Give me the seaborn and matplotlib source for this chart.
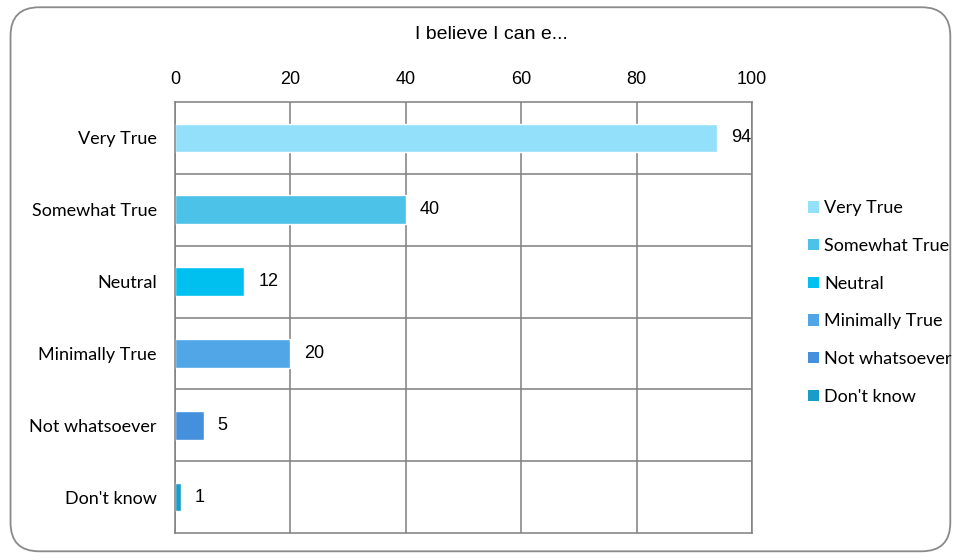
import matplotlib
matplotlib.use("Agg")
import matplotlib.pyplot as plt
import seaborn as sns
import pandas as pd
from matplotlib.patches import Patch, FancyBboxPatch

categories = ["Very True", "Somewhat True", "Neutral", "Minimally True", "Not whatsoever", "Don't know"]
values = [94, 40, 12, 20, 5, 1]
colors = ["#92E0FA", "#4CC2E8", "#00C0F0", "#50A6E6", "#4490DC", "#1A9CC8"]
title = "I believe I can e..."
xticks = [0, 20, 40, 60, 80, 100]

sns.set_style("white")
plt.rcParams["font.family"] = ["Liberation Sans", "DejaVu Sans"]
plt.rcParams["text.color"] = "black"

df = pd.DataFrame({"cat": categories, "val": values})

fig = plt.figure(figsize=(9.57, 5.58), dpi=100)
ax = fig.add_axes([0.1829, 0.0448, 0.6029, 0.7724])

sns.barplot(data=df, y="cat", x="val", hue="cat", palette=colors, order=categories,
            hue_order=categories, dodge=False, legend=False, width=0.4, ax=ax, saturation=1)

ax.set_xlim(0, 100)
ax.set_ylim(5.5, -0.5)
ax.xaxis.tick_top()
ax.set_xticks(xticks)
ax.tick_params(axis="x", length=0, labelsize=13, pad=10, colors="black")
ax.tick_params(axis="y", length=0, labelsize=13, pad=13, colors="black")
for lab in ax.get_yticklabels():
    lab.set_fontfamily(["Lato", "DejaVu Sans"])
ax.set_xlabel("")
ax.set_ylabel("")

for x in xticks:
    ax.axvline(x, color="#7f7f7f", lw=1.1, zorder=0)
for y in [0.5, 1.5, 2.5, 3.5, 4.5]:
    ax.axhline(y, color="#7f7f7f", lw=1.1, zorder=0)
for s in ax.spines.values():
    s.set_visible(True)
    s.set_color("#7f7f7f")
    s.set_linewidth(1.1)

for c in ax.containers:
    ax.bar_label(c, padding=10, fontsize=13, color="black")

fig.text(0.513, 0.938, title, ha="center", va="center", fontsize=14, color="black")

handles = [Patch(facecolor=col, edgecolor="none") for col in colors]
leg = fig.legend(handles, categories, loc="center left", bbox_to_anchor=(0.837, 0.458),
                 frameon=False, handlelength=0.6, handleheight=0.6, handletextpad=0.3,
                 labelspacing=1.2, borderaxespad=0,
                 prop={"family": ["Lato", "DejaVu Sans"], "size": 13})
for t in leg.get_texts():
    t.set_color("black")

border = FancyBboxPatch((0.011, 0.012), 0.982, 0.975, boxstyle="round,pad=0,rounding_size=0.03",
                        transform=fig.transFigure, facecolor="none", edgecolor="#8a8a8a", lw=1.3,
                        mutation_aspect=957/558)
fig.patches.append(border)

fig.savefig("out.png", dpi=100)
